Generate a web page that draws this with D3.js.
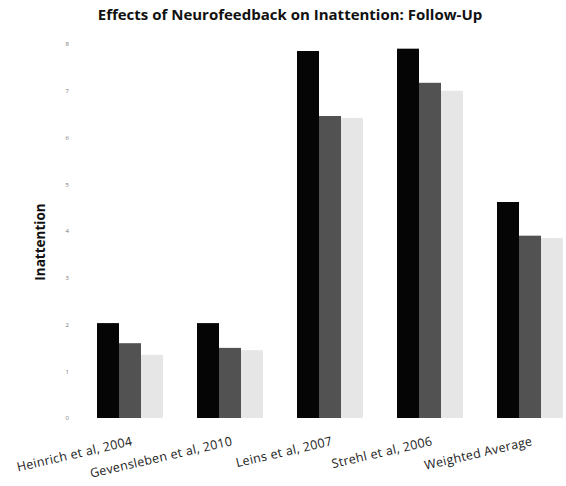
<!DOCTYPE html>
<html><head><meta charset="utf-8">
<script src="https://cdn.jsdelivr.net/npm/d3@7"></script>
<style>body{margin:0;background:#fff}svg{display:block}</style>
</head><body>
<svg id="c" width="566" height="486"></svg>
<script>
const categories = ["Heinrich et al, 2004","Gevensleben et al, 2010","Leins et al, 2007","Strehl et al, 2006","Weighted Average"];
const seriesA = [2.03, 2.03, 7.85, 7.9, 4.62];
const seriesB = [1.6, 1.5, 6.46, 7.17, 3.9];
const seriesC = [1.35, 1.45, 6.42, 7.0, 3.85];
const yTicks = [0,1,2,3,4,5,6,7,8];
const series = [seriesA, seriesB, seriesC];
const colors = ["#050505", "#525252", "#e6e6e6"];

const svg = d3.select("#c");
const x = d3.scaleBand().domain(categories).range([80, 580]).paddingInner(0.34).paddingOuter(0.17);
const xs = d3.scaleBand().domain([0,1,2]).range([0, x.bandwidth()]);
const y = d3.scaleLinear().domain([0, 8]).range([418, 44]);

const g = svg.append("g");
categories.forEach((c, i) => {
  series.forEach((s, j) => {
    g.append("rect")
      .attr("x", x(c) + xs(j))
      .attr("y", y(s[i]))
      .attr("width", xs.bandwidth())
      .attr("height", y(0) - y(s[i]))
      .attr("fill", colors[j]);
  });
});

const yAxis = d3.axisLeft(y).tickValues(yTicks).tickSize(0).tickPadding(0);
const ya = svg.append("g").attr("transform", "translate(69,0)").call(yAxis);
ya.select(".domain").remove();
ya.selectAll("text").attr("font-family", "Open Sans").attr("font-size", 6).attr("fill", "#777");

const xa = svg.append("g");
categories.forEach((c, i) => {
  const cx = x(c) + x.bandwidth() / 2 + 3;
  xa.append("text")
    .attr("transform", `translate(${cx},445) rotate(-13)`)
    .attr("text-anchor", "end")
    .attr("font-family", "Open Sans")
    .attr("font-size", 12.5)
    .attr("letter-spacing", 0.3)
    .attr("fill", "#222")
    .text(c);
});

svg.append("text")
  .attr("x", 290).attr("y", 20)
  .attr("text-anchor", "middle")
  .attr("font-family", "Open Sans")
  .attr("font-weight", "bold")
  .attr("font-size", 15)
  .attr("fill", "#111")
  .text("Effects of Neurofeedback on Inattention: Follow-Up");

svg.append("text")
  .attr("transform", "translate(45,242) rotate(-90)")
  .attr("text-anchor", "middle")
  .attr("font-family", "Open Sans")
  .attr("font-weight", "bold")
  .attr("font-size", 13.5)
  .attr("fill", "#111")
  .text("Inattention");
</script>
</body></html>
